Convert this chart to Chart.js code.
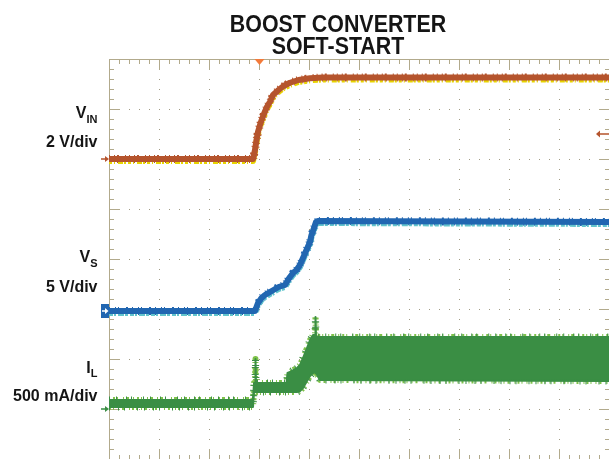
<!DOCTYPE html>
<html><head><meta charset="utf-8">
<script src="https://cdn.jsdelivr.net/npm/chart.js@4.4.1/dist/chart.umd.min.js"></script>
<style>
html,body{margin:0;padding:0;background:#fff;}
#wrap{position:relative;width:609px;height:459px;overflow:hidden;background:#fff;}
canvas{position:absolute;left:0;top:0;}
.t{position:absolute;font-family:"Liberation Sans",Arial,sans-serif;font-weight:bold;color:#151515;line-height:1;white-space:nowrap;}
.ttl{left:138px;width:400px;text-align:center;font-size:23px;transform:scaleX(0.93);transform-origin:50% 50%;}
.lab{right:511.5px;text-align:right;font-size:16px;}
.sub{font-size:11px;position:relative;}
</style></head>
<body>
<div id="wrap">
<canvas id="c" width="609" height="459"></canvas>
<div class="t ttl" style="top:12.5px">BOOST CONVERTER</div>
<div class="t ttl" style="top:35px">SOFT-START</div>
<div class="t lab" style="top:104.5px">V<span class="sub" style="top:5px">IN</span></div>
<div class="t lab" style="top:133.5px">2 V/div</div>
<div class="t lab" style="top:248.5px">V<span class="sub" style="top:5px">S</span></div>
<div class="t lab" style="top:278.5px">5 V/div</div>
<div class="t lab" style="top:359.5px">I<span class="sub" style="top:4px">L</span></div>
<div class="t lab" style="top:387.5px">500 mA/div</div>
</div>
<script>
// Graticule: 10 horizontal x 8 vertical divisions
const divX = 10, divY = 8;
// Channel settings: units per division, ground level (divisions from bottom)
const vinScale = 2,   vinGround = 6;
const vsScale = 5,    vsGround = 2.96;
const ilScale = 0.5,  ilGround = 1;
const triggerTime = 3;     // divisions
const triggerLevel = 1.0;  // V on V_IN

// V_IN (V) vs time (div)
const vinTime  = [0, 2.88, 2.92, 2.95, 2.98, 3.03, 3.09, 3.16, 3.22, 3.28, 3.39, 3.49, 3.62, 3.79, 4.02, 4.28, 10];
const vinVolts = [0, 0,    0.36, 0.76, 1.09, 1.43, 1.76, 2.09, 2.29, 2.56, 2.76, 2.92, 3.05, 3.16, 3.23, 3.26, 3.26];

// V_S (V) vs time (div)
const vsTime  = [0, 2.92, 2.98, 3.05, 3.12, 3.22, 3.29, 3.39, 3.52, 3.58, 3.62, 3.68, 3.75, 3.82, 3.88, 3.95, 4.02, 4.05, 4.10, 4.14, 4.18, 10];
const vsVolts = [0, 0,    0.8,  1.3,  1.6,  1.9,  2.1,  2.4,  2.6,  3.1,  3.4,  3.8,  4.1,  4.6,  5.3,  6.1,  6.9,  7.6,  8.3,  8.9,  9.0,  8.9];

// I_L (A) min/max envelope vs time (div)
const ilTime = [0,    2.88, 2.90, 2.92, 2.93, 2.94, 3.55, 3.57, 3.62, 3.76, 3.82, 3.88, 3.96, 4.02, 4.08, 4.12, 4.13, 4.14, 4.16, 4.22, 10];
const ilMax  = [0.09, 0.09, 0.26, 0.26, 0.50, 0.26, 0.26, 0.36, 0.37, 0.41, 0.44, 0.51, 0.61, 0.69, 0.74, 0.74, 0.92, 0.73, 0.72, 0.72, 0.72];
const ilMin  = [0.02, 0.02, 0.17, 0.17, 0.17, 0.17, 0.17, 0.17, 0.17, 0.17, 0.18, 0.21, 0.28, 0.33, 0.36, 0.37, 0.36, 0.36, 0.34, 0.29, 0.28];

const C = {
  grid: '#b2aa8c', dot: '#a39c84',
  vin: '#b5542d', vinEdge: '#e8d400', trig: '#f37a3a',
  vs: '#2166b1', vsEdge: '#62c4cc',
  il: '#3a8e44', ilEdge: '#7fc24a'
};

function pts(times, vals, scale, ground){
  return times.map((t, i) => ({x: t, y: ground + vals[i] / scale}));
}
const vinPts = pts(vinTime, vinVolts, vinScale, vinGround);
const vsPts  = pts(vsTime, vsVolts, vsScale, vsGround);
const ilMaxPts = pts(ilTime, ilMax, ilScale, ilGround);
const ilMinPts = pts(ilTime, ilMin, ilScale, ilGround);

function ds(data, color, width, order, extra){
  return Object.assign({data, borderColor: color, backgroundColor: color, borderWidth: width,
    order, pointRadius: 0, tension: 0, fill: false, borderJoinStyle: 'round', borderCapStyle: 'butt'}, extra || {});
}

const datasets = [
  // I_L
  ds(ilMaxPts, C.ilEdge, 6, 40, {borderDash: [1,3,2,2,1,5,1,2,3,4]}),
  ds(ilMinPts, C.ilEdge, 6, 39, {borderDash: [2,2,1,4,1,3,2,5,1,2]}),
  ds(ilMaxPts, C.il, 7, 38, {borderDash: [1,6,1,9,1,4,1,11]}),
  ds(ilMinPts, C.il, 7, 37, {borderDash: [1,8,1,5,1,12,1,6]}),
  ds(ilMaxPts, C.il, 2, 36),
  ds(ilMinPts, C.il, 2, 35, {fill: 4, backgroundColor: C.il}),
  // V_S
  ds(vsPts, C.vs, 8, 20, {borderDash: [1,5,1,2,1,7,2,4]}),
  ds(vsPts, C.vsEdge, 6, 19, {yShift: 2, borderDash: [4,1,2,2,6,1,3,2]}),
  ds(vsPts, C.vs, 6, 18),
  // V_IN
  ds(vinPts, C.vin, 8, 10, {borderDash: [1,4,1,2,2,6,1,3]}),
  ds(vinPts, C.vinEdge, 6, 9, {yShift: 2, borderDash: [3,2,1,3,5,1,2,2]}),
  ds(vinPts, C.vin, 6, 8)
];

const shiftPlugin = {
  id: 'shift',
  beforeDatasetDraw(chart, args){
    const s = chart.data.datasets[args.index].yShift;
    if (s){ chart.ctx.save(); chart.ctx.translate(0, s); }
  },
  afterDatasetDraw(chart, args){
    const s = chart.data.datasets[args.index].yShift;
    if (s){ chart.ctx.restore(); }
  }
};

const graticule = {
  id: 'graticule',
  beforeDatasetsDraw(chart){
    const {ctx, scales: {x, y}} = chart;
    const X = v => Math.round(x.getPixelForValue(v));
    const Y = v => Math.round(y.getPixelForValue(v));
    ctx.save();
    ctx.fillStyle = C.dot;
    for (let i = 1; i < divX; i++){
      const px = X(i);
      for (let j = 1; j < divY * 5; j++) ctx.fillRect(px, Y(j / 5), 1, 1);
    }
    for (let j = 1; j < divY; j++){
      const py = Y(j);
      for (let i = 1; i < divX * 5; i++) ctx.fillRect(X(i / 5), py, 1, 1);
    }
    ctx.fillStyle = C.grid;
    const L = X(0), R = X(divX), T = Y(divY), B = Y(0);
    ctx.fillRect(L, T, R - L, 1);
    ctx.fillRect(L, T, 1, B - T);
    ctx.fillRect(L, B, R - L, 1);
    ctx.fillRect(R, T, 1, B - T);
    for (let k = 1; k < divX * 5; k++){
      const px = X(k / 5), len = k % 5 === 0 ? 11 : 5;
      ctx.fillRect(px, T, 1, len);
      ctx.fillRect(px, B - len + 1, 1, len);
    }
    for (let k = 1; k < divY * 5; k++){
      const py = Y(k / 5), len = k % 5 === 0 ? 11 : 5;
      ctx.fillRect(L, py, len, 1);
      ctx.fillRect(R - len + 1, py, len, 1);
    }
    ctx.restore();
  }
};

const markers = {
  id: 'markers',
  afterDatasetsDraw(chart){
    const {ctx, scales: {x, y}} = chart;
    const L = x.getPixelForValue(0), R = x.getPixelForValue(divX), T = y.getPixelForValue(divY);
    ctx.save();
    function arrowRight(py, color){
      ctx.fillStyle = color;
      ctx.fillRect(L - 8, py - 0.75, 5, 1.5);
      ctx.beginPath(); ctx.moveTo(L - 4, py - 3); ctx.lineTo(L, py); ctx.lineTo(L - 4, py + 3); ctx.closePath(); ctx.fill();
    }
    arrowRight(y.getPixelForValue(vinGround), C.vin);
    arrowRight(y.getPixelForValue(ilGround), C.il);
    // V_S ground marker box
    const pv = y.getPixelForValue(vsGround);
    ctx.fillStyle = C.vs;
    ctx.fillRect(L - 8, pv - 7, 8, 14);
    ctx.fillStyle = '#ffffff';
    ctx.fillRect(L - 7, pv - 0.75, 4, 1.5);
    ctx.beginPath(); ctx.moveTo(L - 4, pv - 3); ctx.lineTo(L - 0.5, pv); ctx.lineTo(L - 4, pv + 3); ctx.closePath(); ctx.fill();
    // trigger time marker
    const tx = x.getPixelForValue(triggerTime) + 0.5;
    ctx.fillStyle = C.trig;
    ctx.beginPath(); ctx.moveTo(tx - 5, T); ctx.lineTo(tx + 5, T); ctx.lineTo(tx, T + 6); ctx.closePath(); ctx.fill();
    // trigger level marker
    const ty = y.getPixelForValue(vinGround + triggerLevel / vinScale);
    ctx.fillStyle = C.vin;
    ctx.fillRect(R - 9, ty - 0.75, 9, 1.5);
    ctx.beginPath(); ctx.moveTo(R - 13, ty); ctx.lineTo(R - 9, ty - 3.5); ctx.lineTo(R - 9, ty + 3.5); ctx.closePath(); ctx.fill();
    ctx.restore();
  }
};

new Chart(document.getElementById('c'), {
  type: 'line',
  data: {datasets},
  options: {
    responsive: false,
    animation: false,
    events: [],
    layout: {padding: {left: 109, top: 59, right: 0, bottom: 0}},
    scales: {
      x: {type: 'linear', min: 0, max: divX, display: false},
      y: {type: 'linear', min: 0, max: divY, display: false}
    },
    plugins: {legend: {display: false}, tooltip: {enabled: false}, title: {display: false}}
  },
  plugins: [graticule, shiftPlugin, markers]
});
</script>
</body></html>
